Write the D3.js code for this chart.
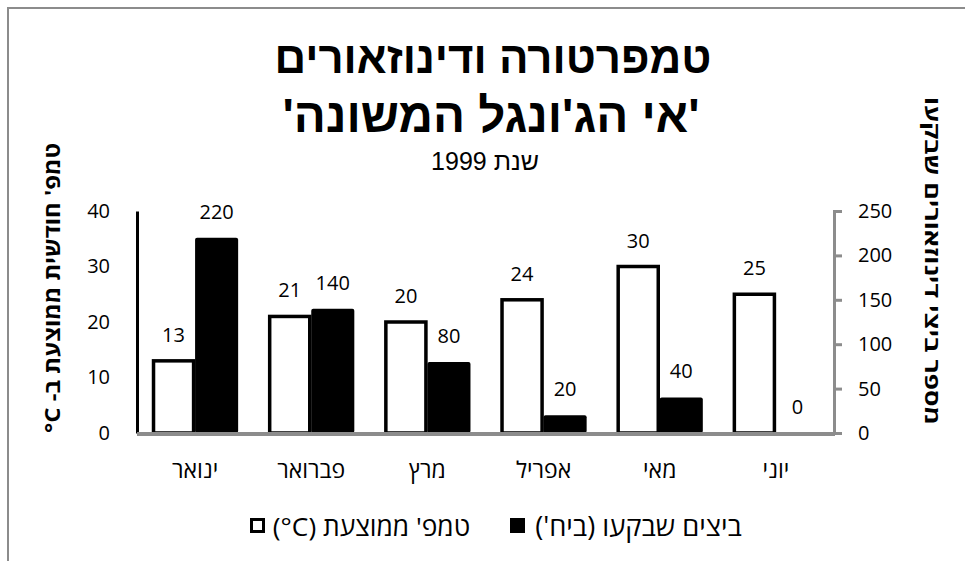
<!DOCTYPE html>
<html>
<head>
<meta charset="utf-8">
<script src="https://cdn.jsdelivr.net/npm/d3@7"></script>
<style>
  body { margin: 0; background: #fff; }
  text { font-family: "Open Sans", "DejaVu Sans", sans-serif; fill: #000; }
</style>
</head>
<body>
<div id="chart"></div>
<script>
// data
var months = ["ינואר", "פברואר", "מרץ", "אפריל", "מאי", "יוני"];
var temps = [13, 21, 20, 24, 30, 25];
var eggs = [220, 140, 80, 20, 40, 0];
var tempTicks = [0, 10, 20, 30, 40];
var eggTicks = [0, 50, 100, 150, 200, 250];
// \u200E keeps "°C" in left-to-right order inside the hebrew text
var seriesNames = ["טמפ' ממוצעת (\u200E°C)", "ביצים שבקעו (ביח')"];

var width = 965, height = 561;
var plot = {left: 137, right: 834, top: 211, bottom: 433};

var svg = d3.select("#chart")
  .append("svg")
    .attr("width", width)
    .attr("height", height);

// outer frame (only left + top visible)
svg.append("path")
  .attr("d", "M8,570 L8,8 L975,8")
  .attr("fill", "none")
  .attr("stroke", "#8c8c8c")
  .attr("stroke-width", 2);

// scales
var x = d3.scaleBand()
  .domain(months)
  .range([plot.left, plot.right])
  .paddingInner(0.2586)
  .paddingOuter(0.1293);

var xs = d3.scaleBand()
  .domain(["temp", "eggs"])
  .range([0, x.bandwidth()]);

var yL = d3.scaleLinear().domain([0, 40]).range([plot.bottom, plot.top]);
var yR = d3.scaleLinear().domain([0, 250]).range([plot.bottom, plot.top]);

var rows = months.map(function(m, i) { return {month: m, temp: temps[i], eggs: eggs[i]}; });

// resize a text so its natural width is about w px
function fitWidth(sel, w) {
  var fs = parseFloat(sel.style("font-size"));
  var cur = sel.node().getComputedTextLength();
  sel.style("font-size", (fs * w / cur).toFixed(1) + "px");
}

// titles
var t1 = svg.append("text")
  .attr("x", 493).attr("y", 73)
  .attr("text-anchor", "middle").attr("direction", "rtl")
  .style("font-family", "'Liberation Sans', Arial, sans-serif")
  .style("font-weight", "bold").style("font-size", "43px")
  .text("טמפרטורה ודינוזאורים");
fitWidth(t1, 437);
var t2 = svg.append("text")
  .attr("x", 491).attr("y", 132)
  .attr("text-anchor", "middle").attr("direction", "rtl")
  .style("font-family", "'Liberation Sans', Arial, sans-serif")
  .style("font-weight", "bold").style("font-size", "43px")
  .text("'אי הג'ונגל המשונה'");
fitWidth(t2, 417);
svg.append("text")
  .attr("x", 485).attr("y", 170)
  .attr("text-anchor", "middle").attr("direction", "rtl")
  .style("font-family", "'Liberation Sans', Arial, sans-serif")
  .style("font-size", "25px")
  .text("שנת 1999");

// left axis
var leftAxis = svg.append("g")
  .attr("transform", "translate(" + plot.left + ",0)")
  .call(d3.axisLeft(yL).tickValues(tempTicks).tickSize(0).tickPadding(27));
leftAxis.select(".domain").attr("stroke", "#000").attr("stroke-width", 3);
leftAxis.selectAll("text").style("font-size", "20px").style("font-family", "'Open Sans', sans-serif");

// right axis
var rightAxis = svg.append("g")
  .attr("transform", "translate(" + plot.right + ",0)")
  .call(d3.axisRight(yR).tickValues(eggTicks).tickSize(8).tickSizeOuter(8).tickPadding(16));
rightAxis.select(".domain").attr("stroke", "#8c8c8c").attr("stroke-width", 3);
rightAxis.selectAll(".tick line").attr("stroke", "#8c8c8c").attr("stroke-width", 3);
rightAxis.selectAll("text").style("font-size", "20px").style("font-family", "'Open Sans', sans-serif");

// axis titles
svg.append("text")
  .attr("transform", "translate(60,288) rotate(-90)")
  .attr("text-anchor", "middle").attr("direction", "rtl")
  .attr("textLength", 290).attr("lengthAdjust", "spacingAndGlyphs")
  .style("font-weight", "bold").style("font-size", "22px")
  .text("טמפ' חודשית ממוצעת ב- \u200E°C");
svg.append("text")
  .attr("transform", "translate(925,261) rotate(90)")
  .attr("text-anchor", "middle").attr("direction", "rtl")
  .attr("textLength", 328).attr("lengthAdjust", "spacingAndGlyphs")
  .style("font-weight", "bold").style("font-size", "20px")
  .text("מספר ביצי דינוזאורים שבקעו");

// bars
var groups = svg.append("g").selectAll("g")
  .data(rows)
  .enter().append("g")
    .attr("transform", function(d) { return "translate(" + x(d.month) + ",0)"; });

groups.append("rect")
  .attr("x", xs("temp") + 1.5)
  .attr("y", function(d) { return yL(d.temp); })
  .attr("width", xs.bandwidth() - 3)
  .attr("height", function(d) { return plot.bottom - yL(d.temp); })
  .attr("fill", "#fff")
  .attr("stroke", "#000")
  .attr("stroke-width", 3.5);

groups.append("rect")
  .attr("x", xs("eggs"))
  .attr("y", function(d) { return yR(d.eggs); })
  .attr("width", xs.bandwidth())
  .attr("height", function(d) { return plot.bottom - yR(d.eggs); })
  .attr("rx", 2)
  .attr("fill", "#000");

// value labels
groups.append("text")
  .attr("x", xs("temp") + xs.bandwidth() / 2)
  .attr("y", function(d) { return yL(d.temp) - 19; })
  .attr("text-anchor", "middle")
  .style("font-size", "20px")
  .text(function(d) { return d.temp; });

groups.append("text")
  .attr("x", xs("eggs") + xs.bandwidth() / 2)
  .attr("y", function(d) { return yR(d.eggs) - 19; })
  .attr("text-anchor", "middle")
  .style("font-size", "20px")
  .text(function(d) { return d.eggs; });

// baseline
svg.append("line")
  .attr("x1", plot.left).attr("x2", plot.right + 1)
  .attr("y1", plot.bottom + 1).attr("y2", plot.bottom + 1)
  .attr("stroke", "#8c8c8c").attr("stroke-width", 4);

// month labels
svg.append("g").selectAll("text")
  .data(months)
  .enter().append("text")
    .attr("x", function(d) { return x(d) + x.bandwidth() / 2; })
    .attr("y", 478)
    .attr("text-anchor", "middle").attr("direction", "rtl")
    .style("font-size", "23px")
    .text(function(d) { return d; });

// legend
var legend = [
  {name: seriesNames[1], fill: "#000", box: 510, x0: 535, x1: 742},
  {name: seriesNames[0], fill: "#fff", box: 250, x0: 273, x1: 470}
];
legend.forEach(function(l) {
  svg.append("rect")
    .attr("x", l.box + 1.5).attr("y", 519.5)
    .attr("width", 12).attr("height", 12)
    .attr("fill", l.fill)
    .attr("stroke", "#000").attr("stroke-width", 3);
  var lt = svg.append("text")
    .attr("x", (l.x0 + l.x1) / 2).attr("y", 536)
    .attr("text-anchor", "middle").attr("direction", "rtl")
    .style("font-size", "22px")
    .text(l.name);
  fitWidth(lt, l.x1 - l.x0);
});
</script>
</body>
</html>
